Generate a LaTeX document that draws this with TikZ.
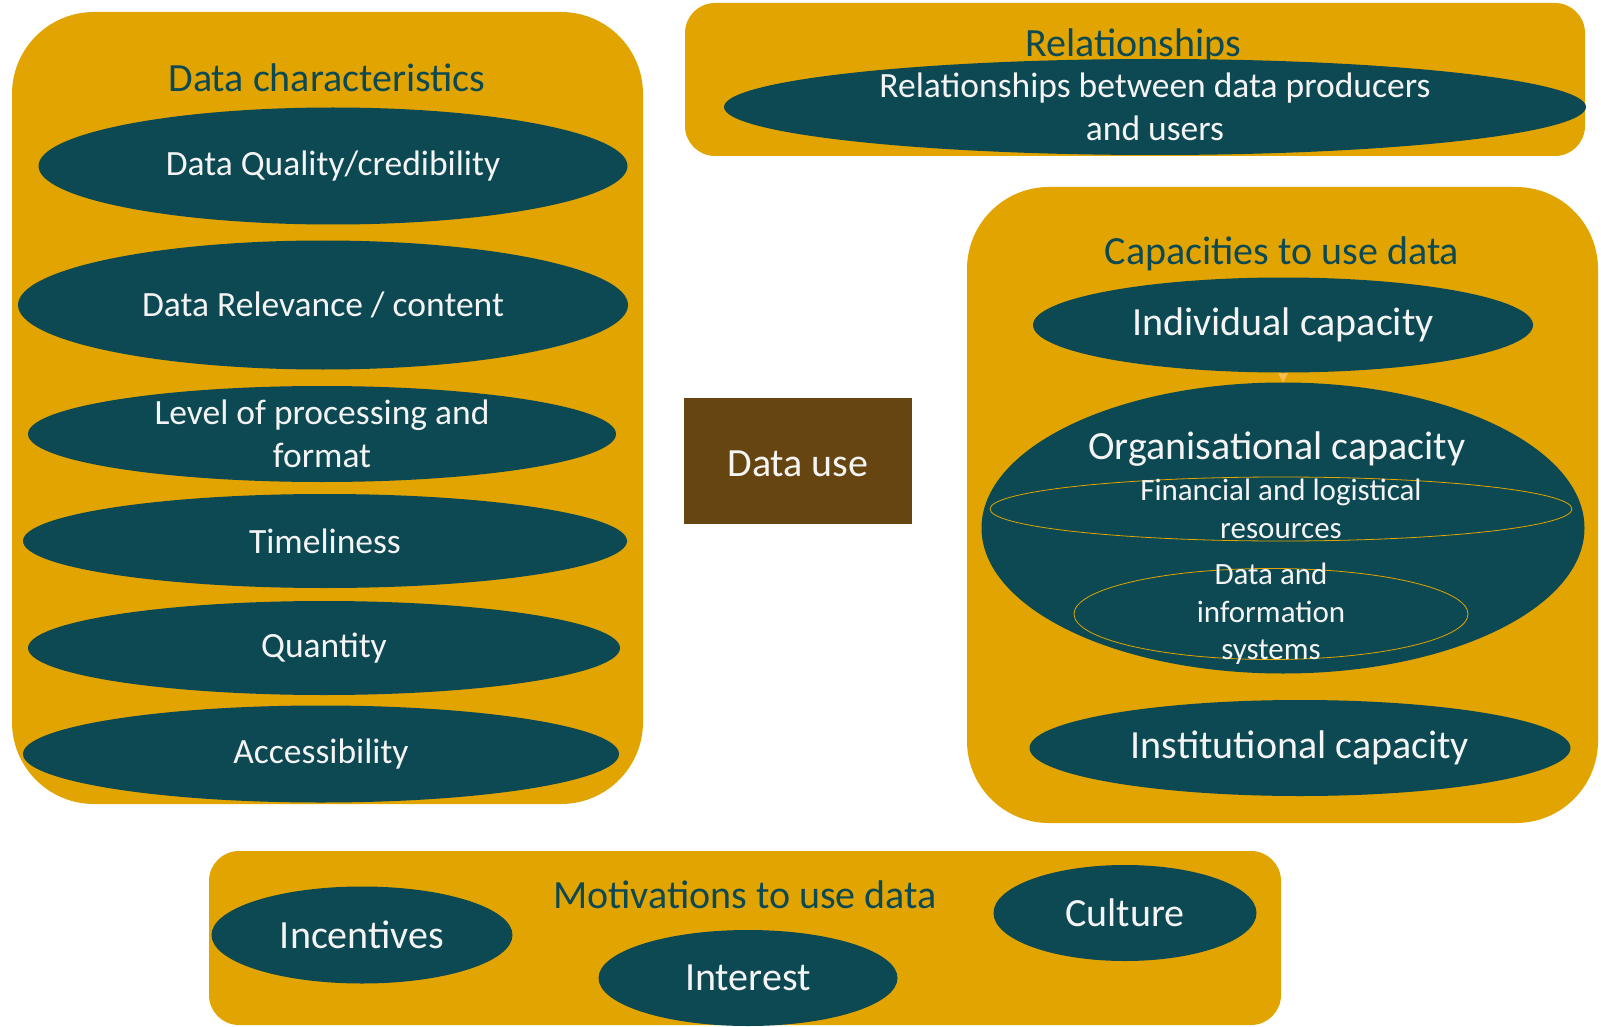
\documentclass[tikz,border=0pt]{standalone}
\usepackage{fontspec}
\setmainfont{Carlito}
\usepackage{xcolor}
\usepackage{tikz}
\usetikzlibrary{shapes.geometric, arrows.meta}

\definecolor{amber}{HTML}{E1A400}
\definecolor{lightamber}{HTML}{F5BE55}
\definecolor{deepteal}{HTML}{0D4953}
\definecolor{brownbox}{HTML}{664510}
\definecolor{paletext}{HTML}{F4F4F4}

\tikzset{
    heading/.style={text=deepteal, inner sep=0pt, font=\fontsize{40}{44}\selectfont},
    blob/.style={ellipse, fill=deepteal, text=paletext, inner sep=0pt, align=center, font=\fontsize{35.5}{43}\selectfont},
    bigblob/.style={blob, font=\fontsize{40}{44}\selectfont},
    ring/.style={ellipse, draw=amber, line width=0.8pt, text=paletext, inner sep=0pt, align=center, font=\fontsize{31}{37.5}\selectfont},
}

\begin{document}
\begin{tikzpicture}[x=1pt, y=-1pt]
    \useasboundingbox (0,0) rectangle (1601,1027);

    % Draw the panels
    \fill[amber, rounded corners=82pt] (12, 12) rectangle (643, 804);
    \fill[amber, rounded corners=30pt] (685, 3) rectangle (1585, 156);
    \fill[amber, rounded corners=82pt] (967, 187) rectangle (1598, 823);
    \fill[amber, rounded corners=30pt] (209, 851) rectangle (1281, 1025);

    % Data characteristics
    \node[heading] (dctitle) at (327, 78) {Data characteristics};
    \node[blob, minimum width=589pt, minimum height=117pt] (quality) at (333, 166) {Data Quality/credibility};
    \node[blob, minimum width=610pt, minimum height=129pt] (relevance) at (323, 305) {Data Relevance / content};
    \node[blob, minimum width=588pt, minimum height=96pt, inner ysep=-10pt] (processing) at (322, 434) {Level of processing and\\format};
    \node[blob, minimum width=604pt, minimum height=94pt] (timeliness) at (325, 541) {Timeliness};
    \node[blob, minimum width=592pt, minimum height=94pt] (quantity) at (324, 648) {Quantity};
    \node[blob, minimum width=596pt, minimum height=97pt] (access) at (321, 754) {Accessibility};

    % Relationships
    \node[heading] (reltitle) at (1133, 46) {Relationships};
    \node[blob, minimum width=862pt, minimum height=96pt, inner ysep=-10pt] (relation) at (1155, 107) {Relationships between data producers\\and users};

    % Data use
    \node[rectangle, fill=brownbox, text=paletext, minimum width=228pt, minimum height=126pt, text depth=0pt, font=\fontsize{40}{44}\selectfont] (datause) at (798, 461) {\raisebox{-6pt}{Data use}};

    % Capacities to use data
    \node[heading] (captitle) at (1282, 254) {Capacities to use data};
    \node[bigblob, minimum width=500pt, minimum height=95pt] (individual) at (1283, 325) {Individual capacity};
    \node[blob, minimum width=603pt, minimum height=291pt] (organisation) at (1283, 528) {};
    \node[text=paletext, inner sep=0pt, font=\fontsize{40}{44}\selectfont] (orgtitle) at (1277, 449) {Organisational capacity};
    \node[ring, minimum width=582pt, minimum height=64pt, inner ysep=-15pt] (finance) at (1281, 509) {Financial and logistical\\resources};
    \node[ring, minimum width=394pt, minimum height=91pt, inner ysep=-25pt] (datasys) at (1271, 614) {Data and\\information\\systems};
    \node[bigblob, minimum width=541pt, minimum height=96pt] (institution) at (1300, 748) {Institutional capacity};
    \draw[-{Triangle[length=9pt, width=10pt]}, lightamber, line width=0.6pt] (individual) -- (organisation);

    % Motivations to use data
    \node[heading] (mottitle) at (745, 895) {Motivations to use data};
    \node[bigblob, minimum width=301pt, minimum height=97pt] (incentives) at (362, 935) {Incentives};
    \node[bigblob, minimum width=299pt, minimum height=96pt] (interest) at (748, 978) {Interest};
    \node[bigblob, minimum width=263pt, minimum height=96pt] (culture) at (1125, 913) {Culture};
\end{tikzpicture}
\end{document}
